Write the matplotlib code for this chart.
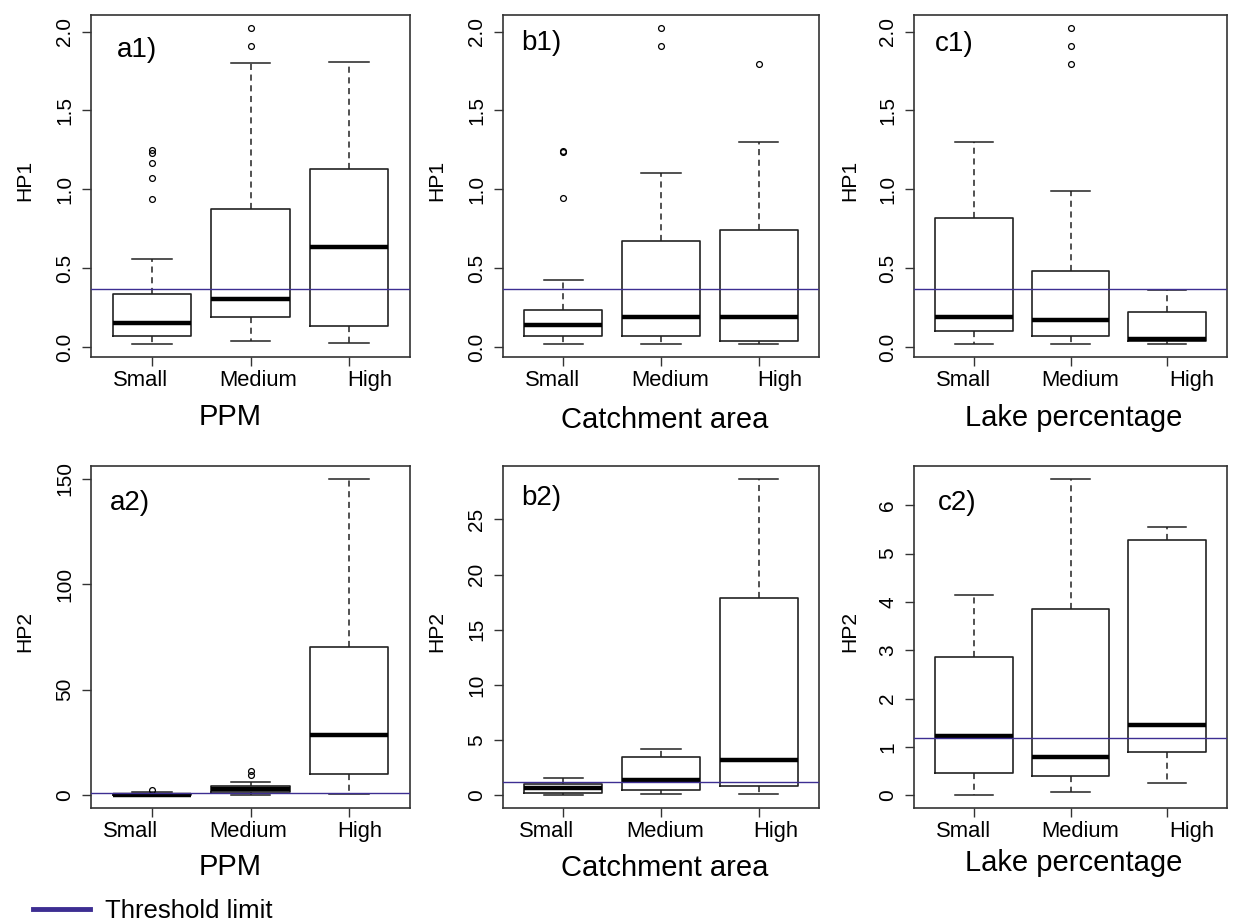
import matplotlib
matplotlib.use("Agg")
import matplotlib.pyplot as plt
from matplotlib.lines import Line2D
from matplotlib.ticker import MultipleLocator, FixedLocator, NullFormatter

plt.rcParams["font.family"] = ["Liberation Sans", "DejaVu Sans"]

# ---- data ----
categories = ["Small", "Medium", "High"]
groupings = ["PPM", "Catchment area", "Lake percentage"]

hp1_threshold = 0.37
hp2_threshold = 1.19

# five-number rows per category: whisker low, q1, median, q3, whisker high
a1_five = [[0.017, 0.068, 0.152, 0.337, 0.561],
           [0.038, 0.190, 0.307, 0.874, 1.799],
           [0.025, 0.136, 0.635, 1.126, 1.810]]
a1_out = [[0.938, 1.071, 1.168, 1.232, 1.249], [1.907, 2.025], []]

b1_five = [[0.021, 0.072, 0.138, 0.233, 0.423],
           [0.017, 0.068, 0.190, 0.671, 1.105],
           [0.017, 0.038, 0.190, 0.741, 1.298]]
b1_out = [[0.942, 1.234, 1.243], [1.907, 2.025], [1.797]]

c1_five = [[0.021, 0.102, 0.190, 0.815, 1.298],
           [0.017, 0.068, 0.170, 0.483, 0.987],
           [0.021, 0.038, 0.053, 0.220, 0.364]]
c1_out = [[], [1.797, 1.907, 2.025], []]

a2_five = [[0.0, 0.1, 0.35, 0.8, 1.6],
           [0.15, 1.7, 3.0, 4.6, 6.5],
           [0.6, 10.1, 28.6, 70.5, 150.0]]
a2_out = [[2.6], [9.6, 11.6], []]

b2_five = [[0.0, 0.24, 0.64, 1.0, 1.6],
           [0.09, 0.51, 1.39, 3.5, 4.23],
           [0.09, 0.88, 3.2, 17.9, 28.7]]
b2_out = [[], [], []]

c2_five = [[0.0, 0.456, 1.23, 2.86, 4.14],
           [0.06, 0.39, 0.80, 3.85, 6.55],
           [0.25, 0.90, 1.45, 5.29, 5.55]]
c2_out = [[], [], []]

# ---- layout (pixels of the 1236x923 reference) ----
W, H = 1236, 923
LINE_COLOR = "#3d2e92"

panels = [
    # five, outliers, ylabel, threshold, tick step, tag, axes box, label offsets, xlabel centre, ylabel x, tag pos
    (a1_five, a1_out, "HP1", hp1_threshold, 0.5, "a1)", (91, 15, 410, 357),
     [-0.115, 0.08, 0.21], (230, 417), 25, (117, 50)),
    (b1_five, b1_out, "HP1", hp1_threshold, 0.5, "b1)", (503, 15, 819, 357),
     [-0.11, 0.09, 0.22], (665, 420), 437, (521, 43)),
    (c1_five, c1_out, "HP1", hp1_threshold, 0.5, "c1)", (914, 15, 1227, 357),
     [-0.11, 0.10, 0.25], (1074, 418), 850, (935, 44)),
    (a2_five, a2_out, "HP2", hp2_threshold, 50, "a2)", (91, 466, 410, 808),
     [-0.22, -0.02, 0.11], (230, 867), 25, (110, 503)),
    (b2_five, b2_out, "HP2", hp2_threshold, 5, "b2)", (503, 466, 819, 808),
     [-0.17, 0.04, 0.175], (665, 868), 437, (521, 498)),
    (c2_five, c2_out, "HP2", hp2_threshold, 1, "c2)", (914, 466, 1227, 808),
     [-0.11, 0.10, 0.25], (1074, 863), 850, (938, 503)),
]


def fx(x):
    return x / W


def fy(y):
    return 1 - y / H


fig = plt.figure(figsize=(W / 100, H / 100), dpi=100)

for idx, (five, outs, ylab, thr, step, tag, box, offs, xlc, ylx, tagpos) in enumerate(panels):
    x0, y0, x1, y1 = box
    ax = fig.add_axes([fx(x0), fy(y1), (x1 - x0) / W, (y1 - y0) / H])

    stats = []
    for row, fl in zip(five, outs):
        stats.append(dict(whislo=row[0], q1=row[1], med=row[2], q3=row[3],
                          whishi=row[4], fliers=fl))
    ax.bxp(stats, positions=[1, 2, 3], widths=0.8, showfliers=True,
           boxprops=dict(color="#222222", lw=1.2),
           whiskerprops=dict(color="#222222", lw=1.1, linestyle=(0, (4, 3))),
           capprops=dict(color="#222222", lw=1.1),
           medianprops=dict(color="black", lw=3.2, solid_capstyle="butt"),
           flierprops=dict(marker="o", markerfacecolor="none",
                           markeredgecolor="black", markersize=4.2,
                           markeredgewidth=0.9))
    ax.axhline(thr, color=LINE_COLOR, lw=1.0, zorder=5)

    # R-style 4% range extension
    vals = [v for row in five for v in row] + [v for fl in outs for v in fl]
    lo, hi = min(vals), max(vals)
    pad = 0.04 * (hi - lo)
    ax.set_ylim(lo - pad, hi + pad)
    ax.set_xlim(0.38, 3.62)

    ax.yaxis.set_major_locator(MultipleLocator(step))
    ax.tick_params(axis="y", labelrotation=90, labelsize=15, length=6.5,
                   width=1, pad=5.5, color="#333333")
    for lab in ax.get_yticklabels():
        lab.set_va("center")

    ax.xaxis.set_major_locator(FixedLocator([1, 2, 3]))
    ax.xaxis.set_major_formatter(NullFormatter())
    ax.xaxis.set_minor_locator(FixedLocator([i + 1 + o for i, o in enumerate(offs)]))
    ax.set_xticklabels(categories, minor=True)
    ax.tick_params(axis="x", which="major", length=6.5, width=1, color="#333333")
    ax.tick_params(axis="x", which="minor", length=0, labelsize=15.8, pad=9.5)

    for sp in ax.spines.values():
        sp.set_color("#333333")
        sp.set_linewidth(1.2)

    fig.text(fx(xlc[0]), fy(xlc[1]), groupings[idx % 3], fontsize=21,
             ha="center", va="center")
    fig.text(fx(ylx), fy((y0 + y1) / 2 - 6), ylab, fontsize=15.2,
             rotation=90, ha="center", va="center")
    fig.text(fx(tagpos[0]), fy(tagpos[1]), tag, fontsize=20,
             ha="left", va="center")

handle = Line2D([], [], color=LINE_COLOR, lw=3.5)
fig.legend([handle], ["Threshold limit"], loc="center left",
           bbox_to_anchor=(fx(33), fy(911)), frameon=False, fontsize=18.5,
           handlelength=2.2, handletextpad=0.6, borderpad=0, borderaxespad=0)

fig.savefig("out.png", dpi=100)
